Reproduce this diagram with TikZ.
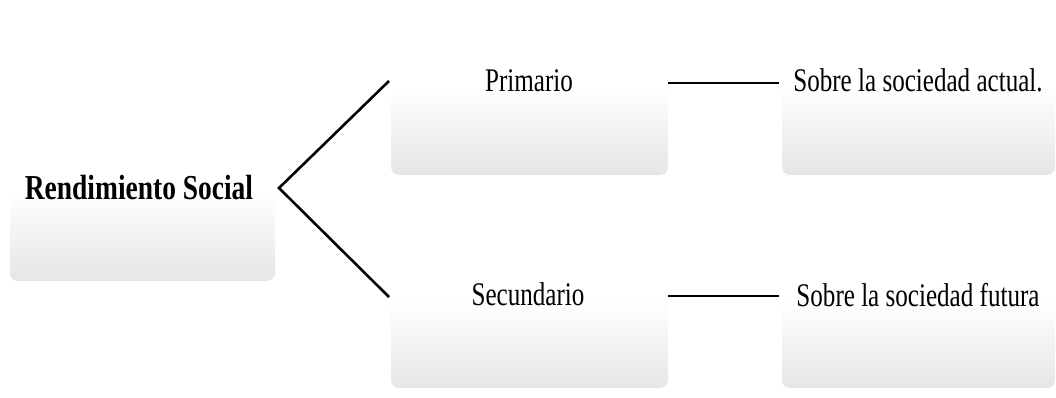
\documentclass[tikz,border=0pt]{standalone}
\usepackage{fontspec}
\setmainfont{Liberation Serif}
\usetikzlibrary{calc}
\tikzset{
  boxshape/.style={rounded corners=8pt, top color=white, bottom color=gray!20, draw=none},
  lbl/.style={anchor=base, inner sep=0pt, font=\fontsize{33}{36}\selectfont},
  conn/.style={draw=black, line width=2.6pt},
}
\newcommand{\cnd}[1]{\scalebox{0.76}[1]{#1}}
\begin{document}
\begin{tikzpicture}[x=1pt,y=-1pt]
\useasboundingbox (0,0) rectangle (1056,398);
% boxes
\path[boxshape] (10,193) rectangle (275,281);
\path[boxshape] (391,87) rectangle (668,175);
\path[boxshape] (782,87) rectangle (1055,175);
\path[boxshape] (391,299) rectangle (668,388);
\path[boxshape] (782,299) rectangle (1055,388);
% texts
\node[lbl, font=\fontsize{35}{38}\selectfont] (rs) at (139,199) {\scalebox{0.785}[1]{\textbf{Rendimiento Social}}};
\node[lbl] (pri) at (529,92) {\cnd{Primario}};
\node[lbl] (sec) at (528,305) {\cnd{Secundario}};
\node[lbl] (act) at (918,92) {\cnd{Sobre la sociedad actual.}};
\node[lbl] (fut) at (918,306) {\cnd{Sobre la sociedad futura}};
% connector points
\coordinate (v) at (279,188);
\coordinate (pe) at (389,81);
\coordinate (se) at (389,297);
\coordinate (p1) at (668,83);
\coordinate (p2) at (779,83);
\coordinate (s1) at (668,296);
\coordinate (s2) at (779,296);
\draw[conn] (pe) -- (v) -- (se);
\draw[conn] (p1) -- (p2);
\draw[conn] (s1) -- (s2);
\end{tikzpicture}
\end{document}
